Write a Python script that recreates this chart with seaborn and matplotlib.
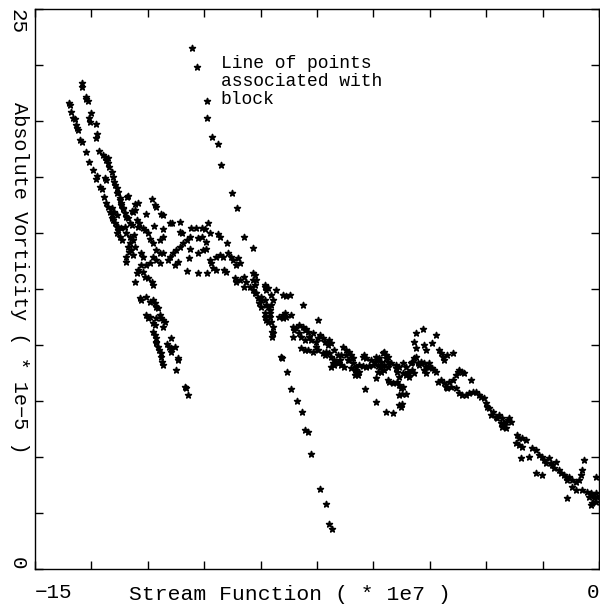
import matplotlib
matplotlib.use("Agg")
import matplotlib.pyplot as plt
import pandas as pd
import seaborn as sns

# ---------------- data (stream function *1e7, absolute vorticity *1e-5) ----------------
upper_branch = [
    (-13.75, 21.68), (-13.76, 21.50), (-13.63, 21.08), (-13.65, 20.97), (-13.59, 20.91),
    (-14.10, 20.82), (-14.07, 20.71), (-13.50, 20.37), (-14.03, 20.41), (-13.98, 20.12),
    (-13.94, 20.07), (-13.57, 20.15), (-13.54, 19.94), (-13.39, 19.86), (-13.92, 19.82),
    (-13.88, 19.67), (-13.85, 19.60), (-13.34, 19.42), (-13.39, 19.23), (-13.81, 19.15),
    (-13.76, 19.07), (-13.63, 18.60), (-13.30, 18.66), (-13.20, 18.48), (-13.14, 18.38),
    (-13.10, 18.26), (-13.05, 18.33), (-13.56, 18.16), (-13.05, 18.11), (-13.04, 17.96),
    (-13.45, 17.81), (-12.96, 17.74), (-13.36, 17.54), (-13.39, 17.40), (-13.14, 17.44),
    (-13.10, 17.36), (-12.92, 17.51), (-12.90, 17.29), (-12.86, 17.14), (-13.28, 17.07),
    (-13.23, 16.95), (-12.83, 16.99), (-12.79, 16.84), (-13.16, 16.62), (-12.73, 16.57),
    (-12.54, 16.62), (-11.90, 16.53), (-13.10, 16.35), (-13.05, 16.17), (-12.70, 16.25),
    (-12.65, 16.10), (-12.35, 16.29), (-12.27, 16.32), (-11.81, 16.25), (-11.77, 16.17),
    (-13.01, 15.95), (-12.96, 15.83), (-12.61, 15.88), (-12.57, 15.73), (-12.52, 15.66),
    (-12.39, 15.95), (-12.35, 16.03), (-12.06, 15.83), (-11.64, 15.83), (-11.59, 15.80),
    (-12.92, 15.58), (-12.88, 15.46), (-12.48, 15.46), (-12.42, 15.36), (-11.83, 15.32),
    (-11.42, 15.46), (-11.35, 15.43), (-11.15, 15.50), (-10.84, 15.21), (-10.71, 15.21),
    (-10.57, 15.21), (-10.40, 15.43), (-12.26, 15.25), (-12.12, 15.21), (-12.83, 15.28),
    (-12.70, 15.21), (-12.61, 15.28),
]

cluster = [
    (-12.83, 16.80), (-12.74, 16.47), (-12.70, 16.32), (-12.52, 16.65), (-12.96, 16.10),
    (-12.90, 15.95), (-12.83, 15.80), (-12.94, 15.66), (-12.66, 16.06), (-12.43, 15.99),
    (-12.30, 15.58), (-12.23, 15.43), (-12.79, 15.28), (-11.59, 15.16), (-12.08, 15.13),
    (-11.99, 14.99), (-12.57, 14.99), (-12.48, 14.83), (-12.39, 14.69), (-12.48, 14.54),
    (-12.35, 14.39), (-11.15, 15.06), (-11.08, 14.99), (-10.49, 15.16), (-10.13, 14.95),
    (-10.09, 14.83), (-9.90, 14.54), (-12.83, 14.99), (-12.74, 14.83), (-11.95, 14.72),
    (-11.86, 14.54), (-11.59, 14.83), (-11.68, 14.69), (-10.89, 14.83), (-10.97, 14.69),
    (-11.06, 14.54), (-11.15, 14.39), (-11.24, 14.24), (-11.33, 14.09), (-10.67, 14.76),
    (-10.57, 14.83), (-10.44, 14.61), (-10.35, 14.99), (-12.58, 13.94), (-12.57, 13.72),
    (-12.17, 14.09), (-12.12, 13.94), (-11.77, 14.24), (-11.68, 14.09), (-11.59, 14.12),
    (-11.86, 13.94), (-11.77, 13.79), (-11.68, 13.65), (-11.46, 13.79), (-11.42, 13.94),
    (-10.89, 14.27), (-10.67, 14.12), (-10.53, 14.24), (-10.44, 14.27), (-10.90, 13.87),
    (-11.20, 13.72), (-11.28, 13.57), (-10.35, 13.79), (-10.31, 13.65), (-10.18, 13.94),
    (-10.09, 14.02), (-10.00, 13.94), (-9.87, 14.09), (-9.78, 13.94), (-9.74, 13.79),
    (-9.60, 13.87), (-9.56, 13.67), (-9.65, 13.57), (-10.27, 13.42), (-10.18, 13.35),
    (-9.96, 13.35), (-9.91, 13.27), (-10.95, 13.30), (-10.67, 13.20), (-10.42, 13.23),
    (-12.17, 13.57), (-12.04, 13.57), (-11.95, 13.65), (-12.26, 13.35), (-12.12, 13.27),
    (-12.35, 12.83), (-12.30, 13.20), (-12.08, 13.05), (-11.99, 12.98), (-11.90, 12.83),
    (-11.86, 12.68), (-9.69, 12.98), (-9.65, 12.83), (-9.56, 12.90), (-9.43, 13.02),
    (-9.38, 12.83), (-9.43, 12.60), (-9.16, 13.12), (-9.11, 12.90), (-9.16, 12.68),
    (-9.29, 12.60), (-9.20, 12.45), (-9.11, 12.31), (-8.89, 12.60), (-8.85, 12.45),
    (-12.45, 14.24), (-12.40, 14.02), (-12.53, 14.37), (-12.37, 14.92), (-12.50, 14.15),
    (-12.69, 14.69), (-12.80, 15.13),
]

lower_branch = [
    (-12.17, 12.01), (-11.86, 12.01), (-11.81, 11.86), (-12.21, 12.08), (-12.04, 12.16),
    (-11.95, 11.93), (-11.73, 11.64), (-12.04, 11.34), (-11.99, 11.19), (-11.68, 11.34),
    (-11.64, 11.19), (-11.59, 11.12), (-11.86, 10.97), (-11.81, 10.89), (-11.59, 10.82),
    (-11.37, 10.30), (-11.86, 10.59), (-11.81, 10.45), (-11.77, 10.30), (-11.77, 10.08),
    (-11.73, 9.92), (-11.50, 10.03), (-11.44, 9.92), (-11.28, 9.90), (-11.77, 11.71),
    (-11.95, 11.26), (-11.77, 11.19), (-11.55, 11.04), (-11.77, 10.15), (-11.70, 9.78),
    (-11.66, 9.63), (-11.64, 9.48), (-11.62, 9.25), (-11.59, 9.11), (-11.37, 9.85),
    (-11.37, 9.70), (-11.20, 9.41), (-11.20, 9.33), (-11.24, 8.88), (-11.02, 8.14),
    (-10.99, 8.07), (-10.93, 7.77),
]

middle_band = [
    (-9.07, 12.08), (-9.03, 11.86), (-8.98, 11.71), (-8.89, 12.01), (-8.85, 11.78),
    (-8.89, 11.41), (-8.85, 11.12), (-8.98, 12.01), (-8.76, 11.26), (-8.72, 11.04),
    (-8.67, 10.82), (-8.67, 10.52), (-8.69, 10.37), (-8.50, 11.26), (-8.41, 11.34),
    (-8.32, 11.26), (-8.19, 11.34), (-8.14, 10.82), (-8.10, 10.67), (-8.14, 10.37),
    (-9.19, 13.20), (-9.20, 12.90), (-9.16, 12.31), (-8.87, 12.68), (-8.81, 12.53),
    (-8.98, 12.16), (-8.72, 12.23), (-8.67, 12.01), (-8.72, 11.78), (-8.81, 11.71),
    (-8.76, 11.56), (-8.74, 11.41), (-8.89, 11.26), (-8.81, 11.04), (-8.69, 10.59),
    (-8.58, 12.45), (-8.41, 12.23), (-8.32, 12.19), (-8.23, 12.23), (-7.88, 11.78),
    (-8.41, 11.19), (-8.36, 11.41), (-7.48, 11.12), (-8.05, 10.74), (-7.97, 10.89),
    (-7.88, 10.82), (-7.79, 10.70), (-7.74, 10.59), (-7.97, 10.52), (-7.92, 10.37),
    (-7.83, 10.22), (-7.70, 10.37), (-7.65, 10.22), (-7.61, 10.52), (-7.43, 10.45),
    (-7.48, 10.30), (-7.52, 10.15), (-7.17, 10.22), (-7.12, 10.08), (-7.21, 10.00),
    (-7.92, 9.85), (-7.83, 9.78), (-7.74, 9.78), (-7.52, 9.92), (-7.48, 9.78),
    (-7.35, 9.63), (-7.30, 9.55), (-7.04, 9.78), (-6.95, 9.55), (-6.82, 9.92),
    (-6.73, 9.78), (-6.64, 9.70), (-6.59, 9.55), (-6.68, 9.33), (-7.12, 9.48),
    (-7.04, 9.33), (-7.08, 9.21), (-6.86, 9.55), (-6.90, 9.33), (-6.95, 9.18),
    (-6.86, 9.11), (-6.77, 9.03), (-7.12, 9.03), (-7.04, 9.11), (-6.64, 9.33),
    (-6.55, 9.18), (-6.59, 8.96), (-6.50, 8.88), (-6.46, 9.03), (-6.46, 8.81),
    (-6.50, 8.66), (-6.42, 8.66), (-6.37, 9.11), (-6.28, 9.06), (-6.19, 9.03),
    (-6.11, 9.06), (-6.28, 9.48), (-6.19, 9.41), (-6.24, 9.55), (-6.06, 9.33),
    (-5.97, 9.25), (-6.02, 9.11), (-5.93, 9.48), (-5.89, 9.33), (-5.80, 9.25),
    (-5.75, 9.63), (-5.71, 9.70), (-5.66, 9.55), (-5.66, 9.41), (-5.62, 9.25),
    (-5.71, 9.11), (-5.80, 9.03), (-5.89, 9.06), (-5.93, 8.51), (-5.80, 8.81),
    (-6.21, 8.04), (-5.93, 7.44), (-5.66, 7.00), (-5.47, 6.98), (-5.58, 8.36),
    (-5.40, 9.11), (-5.40, 8.96), (-5.36, 8.81), (-5.22, 9.18), (-5.13, 9.03),
    (-5.09, 8.81), (-5.00, 9.18), (-4.96, 8.88), (-4.91, 8.74), (-4.87, 10.52),
    (-4.69, 10.71), (-4.91, 10.15), (-4.87, 9.85), (-4.87, 9.48), (-4.65, 10.00),
    (-4.60, 9.78), (-4.65, 9.18), (-4.60, 9.03), (-4.60, 8.74), (-5.36, 8.36),
    (-5.31, 8.21), (-5.22, 8.14), (-5.33, 7.77), (-5.24, 7.80), (-5.12, 7.81),
    (-5.31, 7.32), (-5.24, 7.35), (-5.22, 8.74), (-5.31, 8.58), (-5.04, 8.58),
    (-7.83, 10.67), (-7.35, 10.30), (-7.30, 10.15), (-7.61, 9.70), (-7.26, 9.70),
    (-7.17, 9.63), (-6.99, 9.25), (-6.73, 9.55), (-6.55, 9.41), (-6.37, 8.81),
    (-5.84, 9.41), (-5.62, 9.48), (-5.62, 9.03), (-5.71, 8.88), (-5.89, 8.81),
    (-5.62, 8.44), (-5.49, 8.29), (-5.27, 8.07), (-5.27, 7.25), (-5.53, 9.18),
    (-5.31, 9.03), (-5.04, 8.74), (-5.13, 8.66), (-4.96, 9.25), (-4.91, 9.41),
    (-4.82, 9.18), (-4.78, 9.11), (-4.73, 9.25), (-4.65, 8.88), (-4.56, 9.03),
    (-4.51, 9.18), (-4.43, 8.96), (-4.38, 8.88), (-4.34, 8.81), (-4.43, 10.08),
    (-4.34, 10.45), (-4.25, 9.78), (-4.20, 9.63), (-4.16, 9.48), (-4.12, 9.33),
    (-4.03, 9.55), (-3.89, 9.63),
]

right_tail = [
    (-4.29, 8.36), (-4.20, 8.44), (-4.12, 8.29), (-4.07, 8.14), (-4.03, 8.07),
    (-3.98, 8.36), (-3.89, 8.44), (-3.80, 8.66), (-3.76, 8.81), (-3.72, 8.88),
    (-3.63, 8.81), (-3.58, 8.74), (-3.41, 8.44), (-3.94, 8.14), (-3.80, 8.07),
    (-3.72, 7.84), (-3.63, 7.77), (-3.54, 7.77), (-3.45, 7.84), (-3.36, 7.91),
    (-3.27, 7.91), (-3.19, 7.77), (-3.14, 7.69), (-3.05, 7.62), (-3.01, 7.40),
    (-2.97, 7.25), (-2.92, 7.17), (-2.83, 7.02), (-2.88, 6.87), (-2.74, 6.80),
    (-2.70, 6.73), (-2.66, 6.87), (-2.57, 6.73), (-2.61, 6.50), (-2.52, 6.43),
    (-2.48, 6.58), (-2.43, 6.65), (-2.39, 6.73), (-2.34, 6.58), (-2.48, 6.28),
    (-2.57, 6.35), (-2.17, 5.98), (-2.12, 5.83), (-2.04, 5.83), (-1.95, 5.76),
    (-2.21, 5.61), (-2.12, 5.54), (-2.04, 5.46), (-2.08, 4.94), (-1.86, 5.01),
    (-1.77, 5.39), (-1.68, 5.31), (-1.59, 5.09), (-1.51, 5.01), (-1.46, 4.87),
    (-1.42, 4.72), (-1.33, 4.94), (-1.28, 4.72), (-1.24, 4.64), (-1.19, 4.50),
    (-1.15, 4.79), (-1.68, 4.27), (-1.51, 4.20), (-1.06, 4.42), (-1.02, 4.27),
    (-0.93, 4.20), (-0.88, 4.12), (-0.84, 3.97), (-0.80, 4.12), (-0.71, 3.97),
    (-0.62, 3.90), (-0.53, 3.97), (-0.49, 4.20), (-0.44, 4.42), (-0.84, 3.16),
    (-0.71, 3.67), (-0.62, 3.53), (-0.44, 3.53), (-0.40, 4.87), (-0.31, 3.45),
    (-0.27, 3.23), (-0.22, 3.38), (-0.18, 3.30), (-0.13, 3.16), (-0.09, 3.38),
    (-0.05, 3.23), (-0.18, 2.93), (-0.22, 2.86), (-0.09, 3.00), (-0.09, 4.12),
]

block_line = [
    (-10.83, 23.26), (-10.70, 22.41), (-10.43, 20.89), (-10.43, 20.13), (-10.30, 19.29),
    (-10.14, 18.97), (-10.04, 18.04), (-9.77, 16.79), (-9.64, 16.12), (-9.45, 14.82),
    (-9.21, 14.33), (-8.47, 9.46), (-8.44, 9.42), (-8.31, 8.79), (-8.20, 8.04),
    (-8.02, 7.50), (-7.91, 7.01), (-7.83, 6.21), (-7.75, 6.12), (-7.65, 5.13),
    (-7.41, 3.57), (-7.27, 2.90), (-7.17, 2.01), (-7.11, 1.79),
]

x_tick_values = [-15, -13.5, -12, -10.5, -9, -7.5, -6, -4.5, -3, -1.5, 0]
x_tick_labels = ["\u221215", "", "", "", "", "", "", "", "", "", "0"]
y_tick_values = [0, 2.5, 5, 7.5, 10, 12.5, 15, 17.5, 20, 22.5, 25]
y_tick_labels = ["0", "", "", "", "", "", "", "", "", "", "25"]

x_label = "Stream Function ( * 1e7 )"
y_label = "Absolute Vorticity ( * 1e\u22125 )"
note_text = "Line of points\nassociated with\nblock"
note_pos = (-10.06, 22.95)

# ---------------- plotting ----------------
sns.set_theme(style="ticks")
plt.rcParams["font.family"] = ["Liberation Mono", "DejaVu Sans"]

groups = [upper_branch, cluster, lower_branch, middle_band, right_tail, block_line]
df = pd.concat([pd.DataFrame(g, columns=["psi", "zeta"]) for g in groups],
               ignore_index=True)

fig = plt.figure(figsize=(6.0, 6.07), dpi=100)
fig.patch.set_facecolor("white")
ax = fig.add_axes([0.0583, 0.0626, 0.9400, 0.9226])
ax.set_facecolor("white")

sns.scatterplot(data=df, x="psi", y="zeta", ax=ax, color="black",
                marker="*", s=20, linewidth=1.1, edgecolor="black", legend=False)

ax.set_xlim(-15, 0)
ax.set_ylim(0, 25)
ax.set_xticks(x_tick_values)
ax.set_xticklabels(x_tick_labels)
ax.set_yticks(y_tick_values)
ax.set_yticklabels(y_tick_labels)

ax.tick_params(direction="in", top=True, right=True, length=6, width=1.0,
               color="black", labelcolor="black", labelsize=15)
ax.tick_params(axis="x", pad=10)
ax.tick_params(axis="y", pad=6)

for spine in ax.spines.values():
    spine.set_visible(True)
    spine.set_color("black")
    spine.set_linewidth(1.0)

ylabs = ax.get_yticklabels()
for lbl in ylabs:
    lbl.set_rotation(270)
    lbl.set_ha("right")
ylabs[0].set_va("bottom")
ylabs[-1].set_va("top")

xlabs = ax.get_xticklabels()
xlabs[0].set_ha("left")
xlabs[-1].set_ha("right")

ax.set_xlabel(x_label, fontsize=15.4, color="black")
ax.xaxis.set_label_coords(0.452, -0.045)
ax.xaxis.label.set_va("center")

ax.set_ylabel(y_label, fontsize=14.5, color="black", rotation=270)
ax.yaxis.set_label_coords(-0.027, 0.52)
ax.yaxis.label.set_va("center")
ax.yaxis.label.set_ha("center")

ax.text(note_pos[0], note_pos[1], note_text, fontsize=13, color="black",
        ha="left", va="top", linespacing=1.07)

fig.savefig("out.png", dpi=100, facecolor="white")
